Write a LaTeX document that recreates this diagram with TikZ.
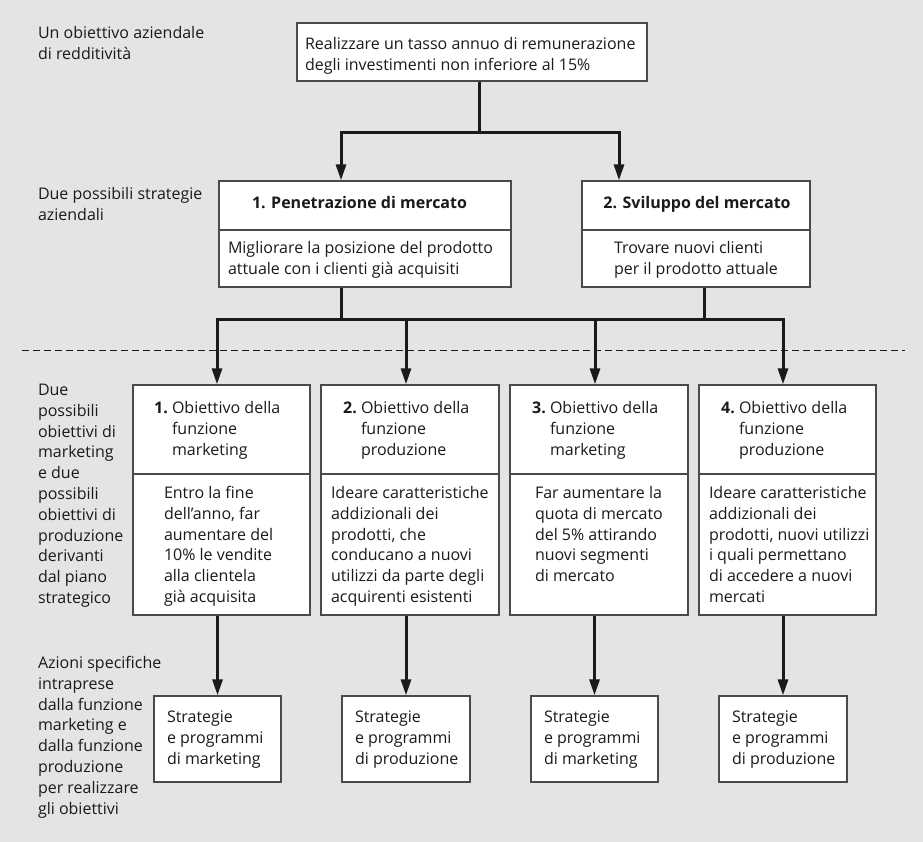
\documentclass[tikz,border=0pt]{standalone}
\usepackage{fontspec}
\setmainfont{Open Sans}
\usetikzlibrary{arrows.meta}
\definecolor{bg}{HTML}{E4E4E4}
\definecolor{frame}{HTML}{4A4A4A}
\definecolor{ink}{HTML}{1A1A1A}
\tikzset{
  box/.style={draw=frame, line width=1.3pt, fill=white, inner sep=0pt, rectangle},
  divider/.style={draw=frame, line width=1.3pt},
  conn/.style={draw=ink, line width=3pt},
  arr/.style={-{Triangle[length=16pt,width=10pt]}},
  txt/.style={anchor=north west, inner sep=0pt, outer sep=0pt, align=left, text=ink, font=\fontsize{16}{20.8}\selectfont},
  ttl/.style={anchor=north, inner sep=0pt, outer sep=0pt, align=center, text=ink, font=\fontsize{16}{20.8}\selectfont\bfseries},
  sepline/.style={draw=ink, line width=0.9pt, dash pattern=on 7pt off 4pt},
}
\begin{document}
\begin{tikzpicture}[x=1pt,y=-1pt]
\fill[bg] (0,0) rectangle (923,842);
\useasboundingbox (0,0) rectangle (923,842);

% ---- boxes ----
\node[box, minimum width=350pt, minimum height=58pt] (top) at (472,52) {};
\node[box, minimum width=292pt, minimum height=106pt] (s1) at (365,234) {};
\node[box, minimum width=228pt, minimum height=106pt] (s2) at (696,234) {};
\draw[divider] (s1.west |- 0,230) -- (s1.east |- 0,230);
\draw[divider] (s2.west |- 0,230) -- (s2.east |- 0,230);

\node[box, minimum width=177pt, minimum height=230pt] (m1) at (221.5,500) {};
\node[box, minimum width=178pt, minimum height=230pt] (m2) at (410,500) {};
\node[box, minimum width=178pt, minimum height=230pt] (m3) at (599,500) {};
\node[box, minimum width=177pt, minimum height=230pt] (m4) at (787.5,500) {};
\foreach \m in {m1,m2,m3,m4}{
  \draw[divider] (\m.west |- 0,474) -- (\m.east |- 0,474);
}

\node[box, minimum width=127pt, minimum height=86pt] (p1) at (217.5,739) {};
\node[box, minimum width=128pt, minimum height=86pt] (p2) at (406,739) {};
\node[box, minimum width=127pt, minimum height=86pt] (p3) at (594.5,739) {};
\node[box, minimum width=128pt, minimum height=86pt] (p4) at (783,739) {};

% ---- dashed separator ----
\coordinate (dl) at (22,350);
\coordinate (dr) at (905,350);
\draw[sepline] (dl) -- (dr);

% ---- connectors ----
\coordinate (j0) at (479,133);
\coordinate (ja) at (341,133);
\coordinate (jb) at (619,133);
\draw[conn] (top.south -| j0) -- (j0);
\draw[conn,arr] (j0) -- (ja) -- (ja |- s1.north);
\draw[conn,arr] (j0) -- (jb) -- (jb |- s2.north);

\coordinate (k1) at (341,319);
\coordinate (k2) at (704,319);
\coordinate (b1) at (217,319);
\coordinate (b2) at (406,319);
\coordinate (b3) at (595,319);
\coordinate (b4) at (783,319);
\draw[conn] (s1.south -| k1) -- (k1);
\draw[conn] (s2.south -| k2) -- (k2);
\draw[conn] (k1) -- (k2);
\draw[conn,arr] (k1) -- (b1) -- (b1 |- m1.north);
\draw[conn,arr] (k2) -- (b4) -- (b4 |- m4.north);
\draw[conn,arr] (b2) -- (b2 |- m2.north);
\draw[conn,arr] (b3) -- (b3 |- m3.north);

\draw[conn,arr] (p1.north |- m1.south) -- (p1.north);
\draw[conn,arr] (p2.north |- m2.south) -- (p2.north);
\draw[conn,arr] (p3.north |- m3.south) -- (p3.north);
\draw[conn,arr] (p4.north |- m4.south) -- (p4.north);

% ---- left labels ----
\node[txt] (l1) at (38,24) {\strut Un obiettivo aziendale\\di redditività};
\node[txt] (l2) at (38,185.4) {\strut Due possibili strategie\\aziendali};
\node[txt] (l3) at (38,381) {\strut Due\\possibili\\obiettivi di\\marketing\\e due\\possibili\\obiettivi di\\produzione\\derivanti\\dal piano\\strategico};
\node[txt] (l4) at (38,654) {\strut Azioni specifiche\\intraprese\\dalla funzione\\marketing e\\dalla funzione\\produzione\\per realizzare\\gli obiettivi};

% ---- box texts ----
\node[txt] (ttop) at (305,34.9) {\strut Realizzare un tasso annuo di remunerazione\\degli investimenti non inferiore al 15\%};

\node[ttl] (ts1) at (359.5,194) {\strut 1. Penetrazione di mercato};
\node[txt] (bs1) at (228,239) {\strut Migliorare la posizione del prodotto\\attuale con i clienti già acquisiti};
\node[ttl] (ts2) at (697,194) {\strut 2. Sviluppo del mercato};
\node[txt] (bs2) at (614,239) {\strut Trovare nuovi clienti\\per il prodotto attuale};

\node[txt] (hm1) at (172,399) {\strut\llap{\textbf{1.}\ }Obiettivo della\\funzione\\marketing};
\node[txt] (hm2) at (361,399) {\strut\llap{\textbf{2.}\ }Obiettivo della\\funzione\\produzione};
\node[txt] (hm3) at (550,399) {\strut\llap{\textbf{3.}\ }Obiettivo della\\funzione\\marketing};
\node[txt] (hm4) at (739,399) {\strut\llap{\textbf{4.}\ }Obiettivo della\\funzione\\produzione};

\node[txt] (bm1) at (164,484) {\strut Entro la fine\\dell’anno, far\\aumentare del\\10\% le vendite\\alla clientela\\già acquisita};
\node[txt] (bm2) at (331,484) {\strut Ideare caratteristiche\\addizionali dei\\prodotti, che\\conducano a nuovi\\utilizzi da parte degli\\acquirenti esistenti};
\node[txt] (bm3) at (535,484) {\strut Far aumentare la\\quota di mercato\\del 5\% attirando\\nuovi segmenti\\di mercato};
\node[txt] (bm4) at (709,484) {\strut Ideare caratteristiche\\addizionali dei\\prodotti, nuovi utilizzi\\i quali permettano\\di accedere a nuovi\\mercati};

\node[txt] (tp1) at (167,708) {\strut Strategie\\e programmi\\di marketing};
\node[txt] (tp2) at (355,708) {\strut Strategie\\e programmi\\di produzione};
\node[txt] (tp3) at (544,708) {\strut Strategie\\e programmi\\di marketing};
\node[txt] (tp4) at (732,708) {\strut Strategie\\e programmi\\di produzione};
\end{tikzpicture}
\end{document}
